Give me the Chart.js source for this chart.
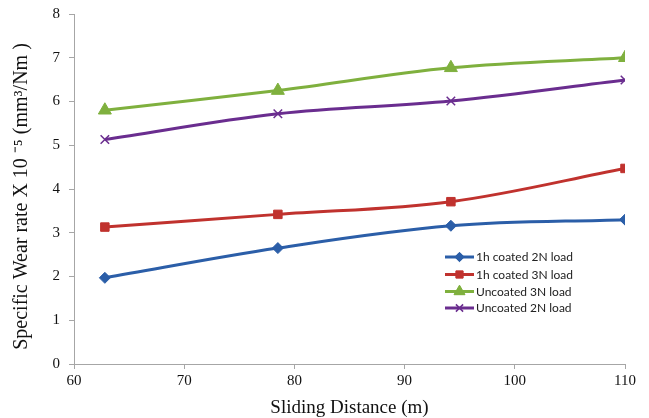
<!DOCTYPE html>
<html>
<head>
<meta charset="utf-8">
<script src="https://cdn.jsdelivr.net/npm/chart.js@4/dist/chart.umd.min.js"></script>
<style>
  html, body { margin: 0; padding: 0; background: #ffffff; }
  #wrap { width: 649px; height: 418px; position: relative; }
</style>
</head>
<body>
<div id="wrap"><canvas id="c" width="649" height="418"></canvas></div>
<script>
// ---- data ----
const slidingDistance = [62.8, 78.5, 94.2, 110];
const coated2N   = [1.97, 2.65, 3.16, 3.30];
const coated3N   = [3.13, 3.42, 3.71, 4.47];
const uncoated3N = [5.80, 6.25, 6.77, 7.00];
const uncoated2N = [5.13, 5.72, 6.01, 6.49];
const seriesNames = ['1h coated 2N load', '1h coated 3N load', 'Uncoated 3N load', 'Uncoated 2N load'];
const xTicks = [60, 70, 80, 90, 100, 110];
const yTicks = [0, 1, 2, 3, 4, 5, 6, 7, 8];

const colors = ['#2b5ea8', '#c0322e', '#7fb03e', '#6a2d8f'];
const styles = ['rectRot', 'rect', 'triangle', 'crossRot'];
const radii  = [5.5, 6, 7.5, 6];

function pts(arr) { return slidingDistance.map((x, i) => ({ x: x, y: arr[i] })); }
const allSeries = [coated2N, coated3N, uncoated3N, uncoated2N];

const datasets = allSeries.map((arr, i) => ({
  label: seriesNames[i],
  data: pts(arr),
  borderColor: colors[i],
  backgroundColor: colors[i],
  borderWidth: 3,
  pointStyle: styles[i],
  pointRadius: radii[i],
  pointBorderWidth: styles[i] === 'crossRot' ? 1.5 : 1,
  pointBorderColor: colors[i],
  pointBackgroundColor: colors[i],
  tension: 0.35,
  fill: false
}));

function drawMarker(ctx, style, r, x, y, color) {
  ctx.save();
  ctx.fillStyle = color; ctx.strokeStyle = color;
  if (Chart.helpers && Chart.helpers.drawPoint) {
    ctx.lineWidth = style === 'crossRot' ? 1.5 : 1;
    Chart.helpers.drawPoint(ctx, { pointStyle: style, radius: r, rotation: 0, borderWidth: ctx.lineWidth }, x, y);
    if (style !== 'crossRot') ctx.fill();
  }
  ctx.restore();
}

const legendPlugin = {
  id: 'customLegend',
  afterDatasetsDraw(chart) {
    const ctx = chart.ctx;
    const rows = [257, 274.5, 291.5, 308];
    ctx.save();
    ctx.font = '12px Lato, "Liberation Sans", sans-serif';
    ctx.textBaseline = 'middle';
    ctx.textAlign = 'left';
    rows.forEach((y, i) => {
      ctx.strokeStyle = colors[i];
      ctx.lineWidth = 3;
      ctx.beginPath(); ctx.moveTo(445, y); ctx.lineTo(474, y); ctx.stroke();
      drawMarker(ctx, styles[i], radii[i] * 0.85, 459.5, y, colors[i]);
      ctx.fillStyle = '#222222';
      ctx.fillText(seriesNames[i], 476, y + 0.5);
    });
    ctx.restore();
  }
};

new Chart(document.getElementById('c'), {
  type: 'line',
  data: { datasets: datasets },
  options: {
    responsive: false,
    animation: false,
    devicePixelRatio: 1,
    layout: { padding: { left: 0, right: 24, top: 14, bottom: 0 } },
    plugins: { legend: { display: false }, tooltip: { enabled: false } },
    scales: {
      x: {
        type: 'linear',
        min: 60, max: 110,
        afterBuildTicks: (s) => { s.ticks = xTicks.map(v => ({ value: v })); },
        afterFit: (s) => { s.height = 54; s.paddingLeft = 0; s.paddingRight = 0; },
        grid: { drawOnChartArea: false, drawTicks: true, tickLength: 5, color: '#a6a6a6', lineWidth: 1 },
        border: { color: '#a6a6a6', width: 1 },
        ticks: { color: '#111111', padding: 3, font: { family: '"Liberation Serif", "Times New Roman", serif', size: 15 } },
        title: { display: true, text: 'Sliding Distance (m)', color: '#111111', padding: { top: 0, bottom: 0 },
                 font: { family: '"Liberation Serif", "Times New Roman", serif', size: 19, lineHeight: 1 } }
      },
      y: {
        type: 'linear',
        min: 0, max: 8,
        afterBuildTicks: (s) => { s.ticks = yTicks.map(v => ({ value: v })); },
        afterFit: (s) => { s.width = 74; s.paddingTop = 0; s.paddingBottom = 0; },
        grid: { drawOnChartArea: false, drawTicks: true, tickLength: 5, color: '#a6a6a6', lineWidth: 1 },
        border: { color: '#a6a6a6', width: 1 },
        ticks: { color: '#111111', padding: 9, font: { family: '"Liberation Serif", "Times New Roman", serif', size: 15 } },
        title: { display: true, text: 'Specific Wear rate X 10 \u207B\u2075 (mm\u00B3/Nm )\u00A0\u00A0\u00A0', color: '#111111',
                 padding: { top: 12, bottom: 0 },
                 font: { family: '"Liberation Serif", "Times New Roman", serif', size: 20, lineHeight: 1 } }
      }
    }
  },
  plugins: [legendPlugin]
});
</script>
</body>
</html>
